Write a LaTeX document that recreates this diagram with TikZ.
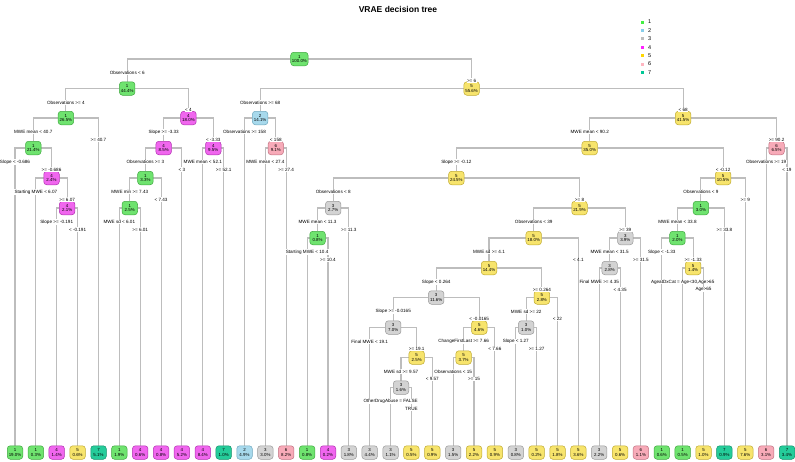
\documentclass[tikz,border=0pt]{standalone}
\usepackage{fontspec}
\setmainfont{Liberation Sans}
\usetikzlibrary{calc,backgrounds}
\definecolor{c1}{HTML}{6FE36F}\definecolor{d1}{HTML}{3FA83F}
\definecolor{c2}{HTML}{A7D9EC}\definecolor{d2}{HTML}{6FA8BE}
\definecolor{c3}{HTML}{D3D3D3}\definecolor{d3}{HTML}{999999}
\definecolor{c4}{HTML}{F066EE}\definecolor{d4}{HTML}{B030B0}
\definecolor{c5}{HTML}{F7E46C}\definecolor{d5}{HTML}{BFAA30}
\definecolor{c6}{HTML}{F7AAB8}\definecolor{d6}{HTML}{C07080}
\definecolor{c7}{HTML}{25CC9A}\definecolor{d7}{HTML}{10906A}
\definecolor{L1}{HTML}{44EE44}\definecolor{L2}{HTML}{87CEEB}
\definecolor{L3}{HTML}{BEBEBE}\definecolor{L4}{HTML}{FF22FF}
\definecolor{L5}{HTML}{FFD700}\definecolor{L6}{HTML}{FFB6C1}
\definecolor{L7}{HTML}{00C896}
\definecolor{edgecol}{HTML}{BDBDBD}
\tikzset{
  tnode/.style={rectangle, rounded corners=3pt, minimum width=15.5pt, minimum height=13.5pt,
    inner xsep=1.2pt, inner ysep=0.3pt, align=center, line width=0.5pt,
    font=\fontsize{4.4}{4.9}\selectfont},
  k1/.style={tnode, fill=c1, draw=d1}, k2/.style={tnode, fill=c2, draw=d2},
  k3/.style={tnode, fill=c3, draw=d3}, k4/.style={tnode, fill=c4, draw=d4},
  k5/.style={tnode, fill=c5, draw=d5}, k6/.style={tnode, fill=c6, draw=d6},
  k7/.style={tnode, fill=c7, draw=d7},
  edge/.style={draw=edgecol, line width=1.1pt},
  lab/.style={fill=white, inner sep=0.4pt, font=\fontsize{4.6}{5}\selectfont},
}
\newcommand\tn[5]{\node[k#2] (#1) at (#4,#5) {#2\\#3};}
\newcommand\brl[3]{\begin{pgfonlayer}{background}\draw[edge] (#1) -| (#2);\end{pgfonlayer}%
  \node[lab] at ($(#2|-#1)+(0,14)$) {#3};}
\newcommand\brr[3]{\begin{pgfonlayer}{background}\draw[edge] (#1) -| (#2);\end{pgfonlayer}%
  \node[lab] at ($(#2|-#1)+(0,21.5)$) {#3};}
\begin{document}
\begin{tikzpicture}[x=1pt,y=-1pt]
\useasboundingbox (0,0) rectangle (795,461);
\begin{pgfonlayer}{background}\fill[white] (0,0) rectangle (795,461);\end{pgfonlayer}
\node[font=\bfseries\fontsize{8.5}{10}\selectfont] (title) at (398,9) {VRAE decision tree};
\foreach \i in {1,...,7}{
  \node[fill=L\i, minimum size=3pt, inner sep=0pt] (lg\i) at (642,{13.6+8.4*\i}) {};
  \node[anchor=west, inner sep=0pt, font=\fontsize{5.5}{6}\selectfont] (lt\i) at (648,{13.6+8.4*\i}) {\i};
}
% internal nodes
\tn{root}{1}{100.0\%}{299.4}{59}
\tn{n2}{1}{44.4\%}{127.2}{88.5}
\tn{n3}{5}{55.6\%}{471.6}{88.5}
\tn{n4}{1}{26.5\%}{65.9}{118}
\tn{n5}{4}{18.0\%}{188.45}{118}
\tn{n6}{2}{14.1\%}{260.15}{118}
\tn{n7}{5}{41.5\%}{683.1}{118}
\tn{n8}{1}{21.4\%}{33.25}{148}
\tn{n10}{4}{8.5\%}{163.65}{148}
\tn{n11}{4}{9.5\%}{213.25}{148}
\tn{n13}{6}{9.1\%}{275.8}{148}
\tn{n14}{5}{35.0\%}{589.7}{148}
\tn{n15}{6}{6.5\%}{776.55}{148}
\tn{n16}{4}{2.4\%}{51.5}{178}
\tn{n17}{1}{3.3\%}{145.4}{178}
\tn{n18}{5}{24.5\%}{456.35}{178}
\tn{n19}{5}{10.5\%}{723.1}{178}
\tn{n20}{4}{2.1\%}{67.15}{208}
\tn{n21}{1}{2.5\%}{129.75}{208}
\tn{n22}{3}{2.7\%}{333.2}{208}
\tn{n23}{5}{21.9\%}{579.5}{208}
\tn{n24}{1}{3.0\%}{700.9}{208}
\tn{n25}{1}{0.8\%}{317.55}{238}
\tn{n26}{5}{18.0\%}{533.7}{238}
\tn{n27}{3}{3.9\%}{625.3}{238}
\tn{n28}{1}{2.0\%}{677.45}{238}
\tn{n29}{5}{14.4\%}{489.0}{268}
\tn{n30}{3}{2.8\%}{609.65}{268}
\tn{n31}{5}{1.4\%}{693.1}{268}
\tn{n32}{3}{11.6\%}{436.2}{297.5}
\tn{n33}{5}{2.8\%}{541.85}{297.5}
\tn{n34}{3}{7.0\%}{393.2}{327.5}
\tn{n35}{5}{4.6\%}{479.25}{327.5}
\tn{n36}{3}{1.0\%}{526.2}{327.5}
\tn{n37}{5}{2.5\%}{416.65}{357.5}
\tn{n38}{5}{3.7\%}{463.6}{357.5}
\tn{n39}{3}{1.6\%}{401.0}{387.5}
% leaves
\tn{l1}{1}{19.0\%}{15.0}{452.5}
\tn{l2}{1}{0.3\%}{35.9}{452.5}
\tn{l3}{4}{1.4\%}{56.7}{452.5}
\tn{l4}{5}{0.6\%}{77.6}{452.5}
\tn{l5}{7}{5.1\%}{98.5}{452.5}
\tn{l6}{1}{1.9\%}{119.3}{452.5}
\tn{l7}{4}{0.6\%}{140.2}{452.5}
\tn{l8}{4}{0.8\%}{161.1}{452.5}
\tn{l9}{4}{5.2\%}{181.9}{452.5}
\tn{l10}{4}{8.4\%}{202.8}{452.5}
\tn{l11}{7}{1.0\%}{223.7}{452.5}
\tn{l12}{2}{4.9\%}{244.5}{452.5}
\tn{l13}{3}{3.0\%}{265.4}{452.5}
\tn{l14}{6}{8.2\%}{286.2}{452.5}
\tn{l15}{1}{0.8\%}{307.1}{452.5}
\tn{l16}{4}{0.2\%}{328.0}{452.5}
\tn{l17}{3}{1.8\%}{348.8}{452.5}
\tn{l18}{3}{4.4\%}{369.7}{452.5}
\tn{l19}{3}{1.1\%}{390.6}{452.5}
\tn{l20}{5}{0.5\%}{411.4}{452.5}
\tn{l21}{5}{0.9\%}{432.3}{452.5}
\tn{l22}{3}{1.5\%}{453.2}{452.5}
\tn{l23}{5}{2.2\%}{474.0}{452.5}
\tn{l24}{5}{0.9\%}{494.9}{452.5}
\tn{l25}{3}{0.8\%}{515.8}{452.5}
\tn{l26}{5}{0.2\%}{536.6}{452.5}
\tn{l27}{5}{1.8\%}{557.5}{452.5}
\tn{l28}{5}{3.6\%}{578.4}{452.5}
\tn{l29}{3}{2.2\%}{599.2}{452.5}
\tn{l30}{5}{0.6\%}{620.1}{452.5}
\tn{l31}{6}{1.1\%}{640.9}{452.5}
\tn{l32}{1}{0.6\%}{661.8}{452.5}
\tn{l33}{1}{0.5\%}{682.7}{452.5}
\tn{l34}{5}{1.0\%}{703.5}{452.5}
\tn{l35}{7}{0.9\%}{724.4}{452.5}
\tn{l36}{5}{7.6\%}{745.3}{452.5}
\tn{l37}{6}{3.1\%}{766.1}{452.5}
\tn{l38}{7}{3.4\%}{787.0}{452.5}
% branches
\brl{root}{n2}{Observations < 6}\brr{root}{n3}{>= 6}
\brl{n2}{n4}{Observations >= 4}\brr{n2}{n5}{< 4}
\brl{n4}{n8}{MWE mean < 40.7}\brr{n4}{l5}{>= 40.7}
\brl{n8}{l1}{Slope < -0.686}\brr{n8}{n16}{>= -0.686}
\brl{n16}{l2}{Starting MWE < 6.07}\brr{n16}{n20}{>= 6.07}
\brl{n20}{l3}{Slope >= -0.191}\brr{n20}{l4}{< -0.191}
\brl{n5}{n10}{Slope >= -3.33}\brr{n5}{n11}{< -3.33}
\brl{n10}{n17}{Observations >= 3}\brr{n10}{l9}{< 3}
\brl{n17}{n21}{MWE min >= 7.43}\brr{n17}{l8}{< 7.43}
\brl{n21}{l6}{MWE sd < 6.01}\brr{n21}{l7}{>= 6.01}
\brl{n11}{l10}{MWE mean < 52.1}\brr{n11}{l11}{>= 52.1}
\brl{n3}{n6}{Observations >= 68}\brr{n3}{n7}{< 68}
\brl{n6}{l12}{Observations >= 158}\brr{n6}{n13}{< 158}
\brl{n13}{l13}{MWE mean < 27.4}\brr{n13}{l14}{>= 27.4}
\brl{n7}{n14}{MWE mean < 90.2}\brr{n7}{n15}{>= 90.2}
\brl{n15}{l37}{Observations >= 19}\brr{n15}{l38}{< 19}
\brl{n14}{n18}{Slope >= -0.12}\brr{n14}{n19}{< -0.12}
\brl{n18}{n22}{Observations < 8}\brr{n18}{n23}{>= 8}
\brl{n22}{n25}{MWE mean < 11.3}\brr{n22}{l17}{>= 11.3}
\brl{n25}{l15}{Starting MWE < 10.4}\brr{n25}{l16}{>= 10.4}
\brl{n23}{n26}{Observations < 39}\brr{n23}{n27}{>= 39}
\brl{n26}{n29}{MWE sd >= 4.1}\brr{n26}{l28}{< 4.1}
\brl{n29}{n32}{Slope < 0.264}\brr{n29}{n33}{>= 0.264}
\brl{n32}{n34}{Slope >= -0.0165}\brr{n32}{n35}{< -0.0165}
\brl{n34}{l18}{Final MWE < 19.1}\brr{n34}{n37}{>= 19.1}
\brl{n37}{n39}{MWE sd >= 9.57}\brr{n37}{l21}{< 9.57}
\brl{n39}{l19}{OtherDrugAbuse = FALSE}\brr{n39}{l20}{TRUE}
\brl{n35}{n38}{ChangeFirstLast >= 7.66}\brr{n35}{l24}{< 7.66}
\brl{n38}{l22}{Observations < 15}\brr{n38}{l23}{>= 15}
\brl{n33}{n36}{MWE sd >= 22}\brr{n33}{l27}{< 22}
\brl{n36}{l25}{Slope < 1.27}\brr{n36}{l26}{>= 1.27}
\brl{n27}{n30}{MWE mean < 31.5}\brr{n27}{l31}{>= 31.5}
\brl{n30}{l29}{Final MWE >= 4.35}\brr{n30}{l30}{< 4.35}
\brl{n19}{n24}{Observations < 9}\brr{n19}{l36}{>= 9}
\brl{n24}{n28}{MWE mean < 33.8}\brr{n24}{l35}{>= 33.8}
\brl{n28}{l32}{Slope < -1.33}\brr{n28}{n31}{>= -1.33}
\brl{n31}{l33}{AgeatDxCat = Age<30,Age>65}\brr{n31}{l34}{Age>65}
\end{tikzpicture}
\end{document}
